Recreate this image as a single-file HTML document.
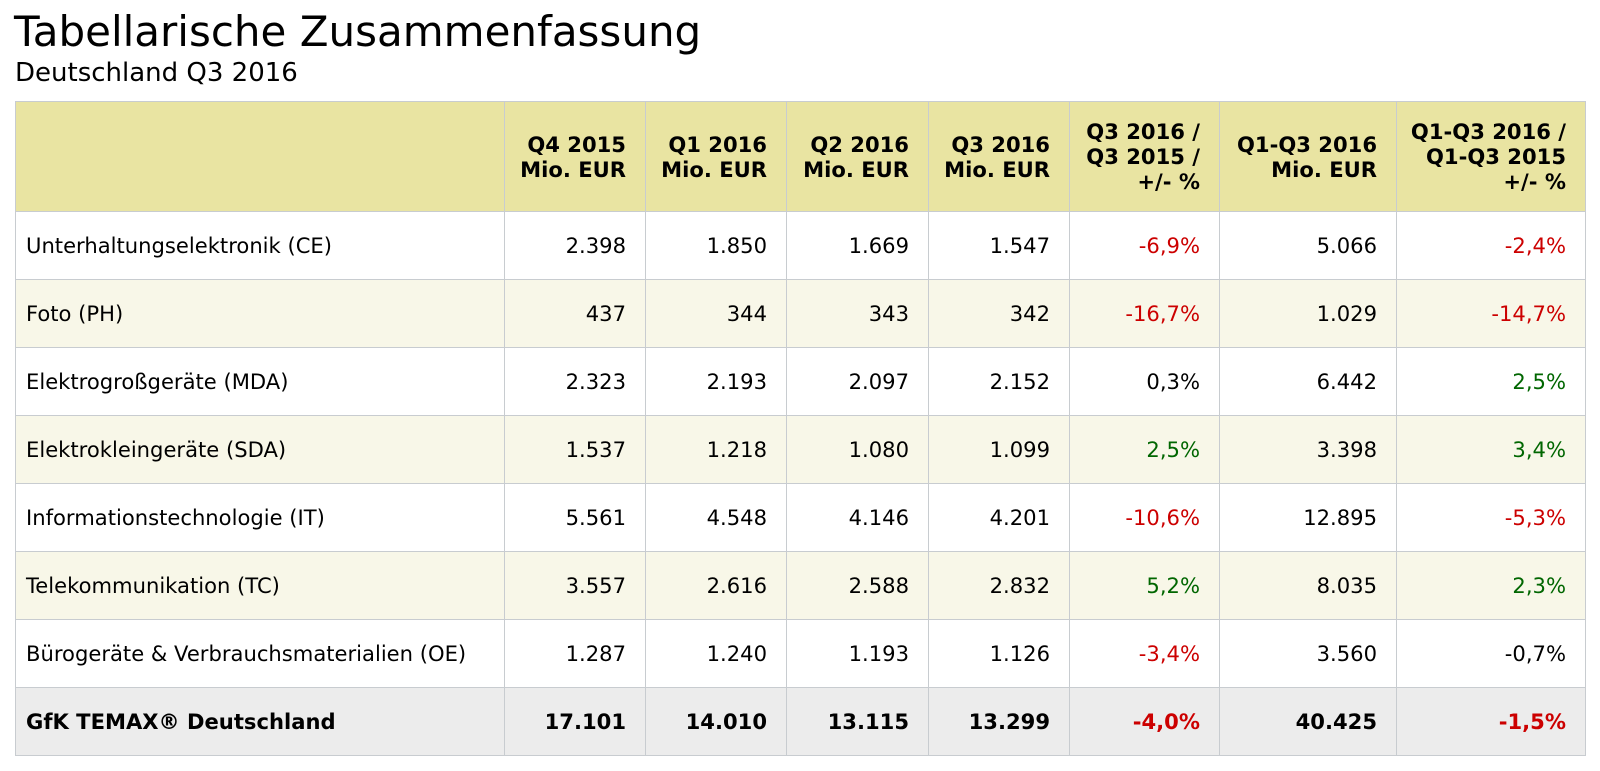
<!DOCTYPE html>
<html><head><meta charset="utf-8"><style>
body{margin:0;width:1600px;height:771px;background:#fff;font-family:"DejaVu Sans",sans-serif;color:#000;overflow:hidden}
h1{position:absolute;left:14px;top:6px;margin:0;font-weight:normal;font-size:42px;line-height:52px}
h2{position:absolute;left:15px;top:56px;margin:0;font-weight:normal;font-size:26px;line-height:34px}
table{position:absolute;left:15px;top:101px;border-collapse:collapse;font-size:21.1px;table-layout:fixed;width:1570px}
td,th{border:1px solid #c8ccd0;padding:0 19px 0 10px;text-align:right;box-sizing:border-box}
th{background:#e9e4a2;height:110px;font-weight:bold;line-height:25px}
td{height:68px}
td:first-child{text-align:left}
tr.a td{background:#f8f7e8}
tr.t td{background:#ececec;font-weight:bold}
.r{color:#cc0000}.g{color:#006600}
</style></head><body>
<h1>Tabellarische Zusammenfassung</h1>
<h2>Deutschland Q3 2016</h2>
<table>
<colgroup><col style="width:489px"><col style="width:141px"><col style="width:141px"><col style="width:142px"><col style="width:141px"><col style="width:150px"><col style="width:177px"><col style="width:189px"></colgroup>
<tr><th></th><th>Q4 2015<br>Mio. EUR</th><th>Q1 2016<br>Mio. EUR</th><th>Q2 2016<br>Mio. EUR</th><th>Q3 2016<br>Mio. EUR</th><th>Q3 2016 /<br>Q3 2015 /<br>+/- %</th><th>Q1-Q3 2016<br>Mio. EUR</th><th>Q1-Q3 2016 /<br>Q1-Q3 2015<br>+/- %</th></tr>
<tr><td>Unterhaltungselektronik (CE)</td><td>2.398</td><td>1.850</td><td>1.669</td><td>1.547</td><td class="r">-6,9%</td><td>5.066</td><td class="r">-2,4%</td></tr>
<tr class="a"><td>Foto (PH)</td><td>437</td><td>344</td><td>343</td><td>342</td><td class="r">-16,7%</td><td>1.029</td><td class="r">-14,7%</td></tr>
<tr><td>Elektrogroßgeräte (MDA)</td><td>2.323</td><td>2.193</td><td>2.097</td><td>2.152</td><td>0,3%</td><td>6.442</td><td class="g">2,5%</td></tr>
<tr class="a"><td>Elektrokleingeräte (SDA)</td><td>1.537</td><td>1.218</td><td>1.080</td><td>1.099</td><td class="g">2,5%</td><td>3.398</td><td class="g">3,4%</td></tr>
<tr><td>Informationstechnologie (IT)</td><td>5.561</td><td>4.548</td><td>4.146</td><td>4.201</td><td class="r">-10,6%</td><td>12.895</td><td class="r">-5,3%</td></tr>
<tr class="a"><td>Telekommunikation (TC)</td><td>3.557</td><td>2.616</td><td>2.588</td><td>2.832</td><td class="g">5,2%</td><td>8.035</td><td class="g">2,3%</td></tr>
<tr><td>Bürogeräte &amp; Verbrauchsmaterialien (OE)</td><td>1.287</td><td>1.240</td><td>1.193</td><td>1.126</td><td class="r">-3,4%</td><td>3.560</td><td>-0,7%</td></tr>
<tr class="t"><td>GfK TEMAX® Deutschland</td><td>17.101</td><td>14.010</td><td>13.115</td><td>13.299</td><td class="r">-4,0%</td><td>40.425</td><td class="r">-1,5%</td></tr>
</table>
</body></html>
